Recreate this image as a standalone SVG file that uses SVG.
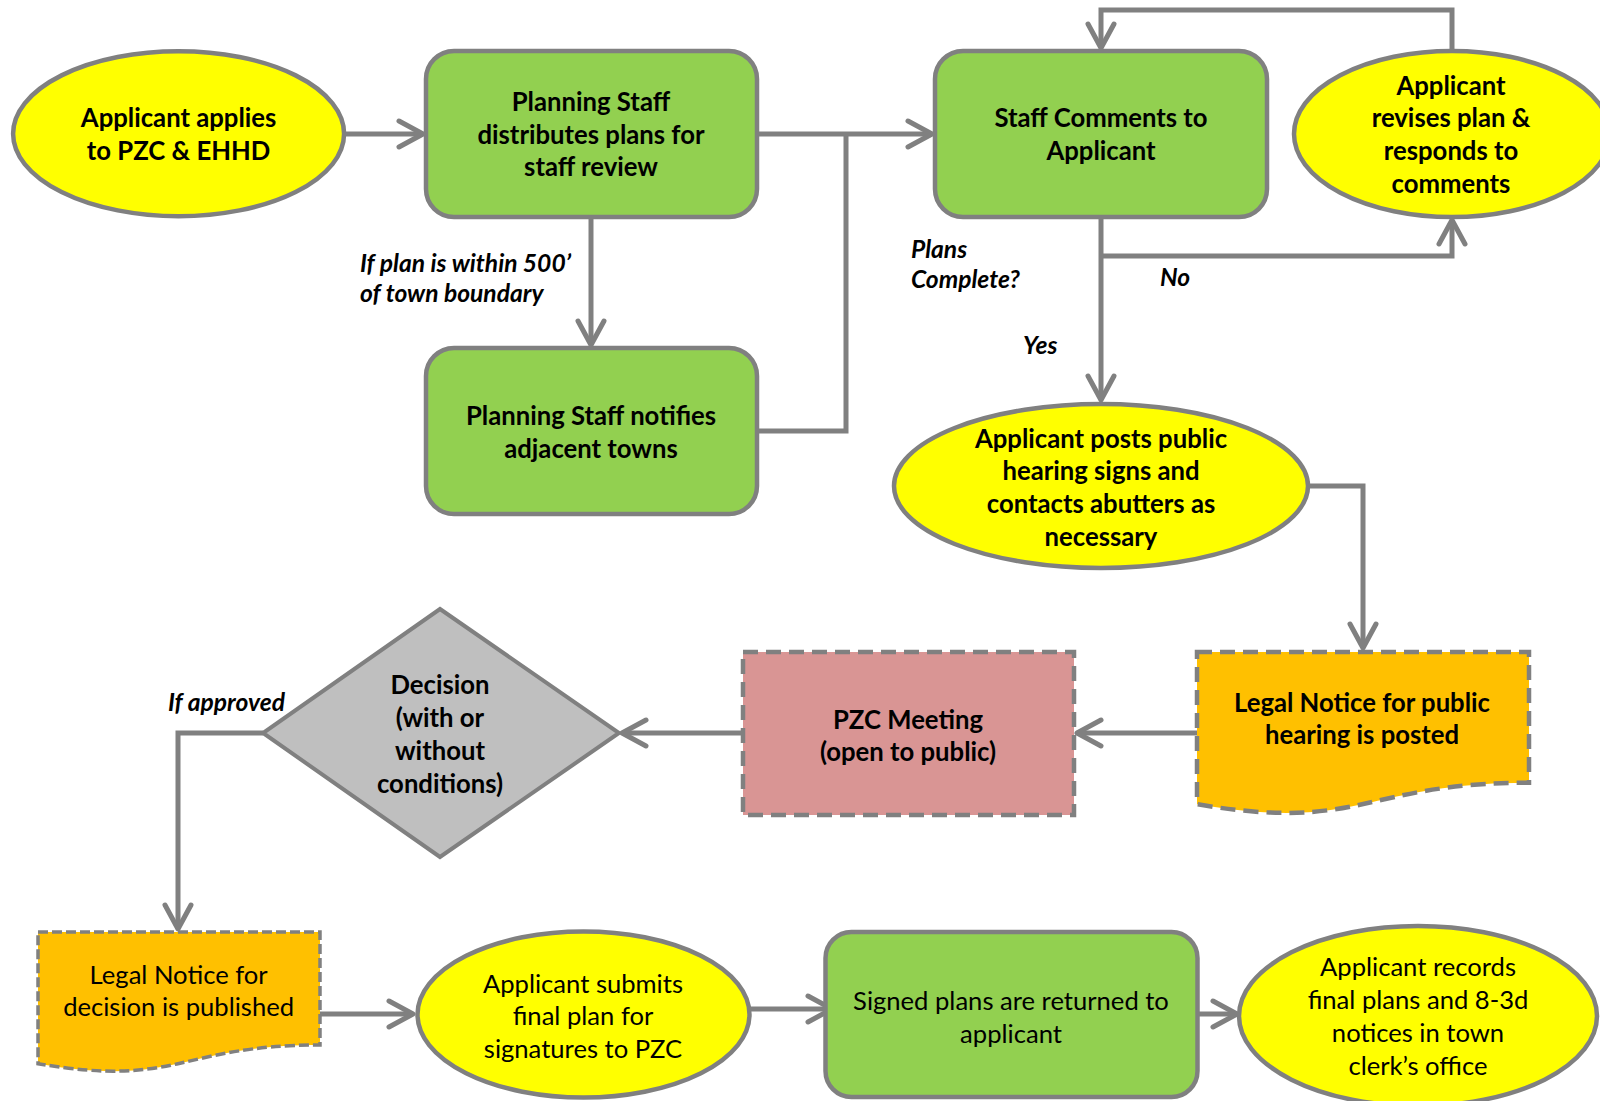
<svg xmlns="http://www.w3.org/2000/svg" width="1600" height="1101" viewBox="0 0 1600 1101">
<defs>
<style>
.yel{fill:#FFFF00;stroke:#808080;stroke-width:4.5}
.grn{fill:#92D050;stroke:#808080;stroke-width:4.5}
.org{fill:#FFC000;stroke:#808080;stroke-width:4.5;stroke-dasharray:15 8}
.org2{fill:#FFC000;stroke:#808080;stroke-width:3.5;stroke-dasharray:10 4}
.pnk{fill:#D99594;stroke:#808080;stroke-width:4.5;stroke-dasharray:15 8}
.gry{fill:#BFBFBF;stroke:#808080;stroke-width:4}
.conn{fill:none;stroke:#808080;stroke-width:5;marker-end:url(#arr)}
.plain{fill:none;stroke:#808080;stroke-width:5}
text{font-family:Lato,"Liberation Sans",sans-serif;fill:#000}
.b{font-weight:bold;font-size:25.7px;text-anchor:middle}
.r{font-size:25.6px;text-anchor:middle}
.lbl{font-weight:bold;font-style:italic;font-size:24.6px}
</style>
<marker id="arr" markerUnits="userSpaceOnUse" markerWidth="40" markerHeight="40" viewBox="-30 -20 40 40" refX="0" refY="0" orient="auto">
<path d="M-24,-13 L0,0 L-24,13" fill="none" stroke="#808080" stroke-width="5" stroke-linecap="round" stroke-linejoin="round"/>
</marker>
</defs>
<g id="connectors">
<path class="conn" d="M345,134 H423"/>
<path class="conn" d="M591,217 V345"/>
<path class="conn" d="M757,134 H932"/>
<path class="plain" d="M757,431 H846 V134"/>
<path class="conn" d="M1101,217 V400"/>
<path class="conn" d="M1101,256 H1452 V220"/>
<path class="conn" d="M1452,51 V10 H1101 V48"/>
<path class="conn" d="M1308,486 H1363 V648"/>
<path class="conn" d="M1197,733 H1077"/>
<path class="conn" d="M743,733 H622"/>
<path class="conn" d="M263,733 H178 V929"/>
<path class="conn" d="M320,1014 H413"/>
<path class="conn" d="M750,1009 H832"/>
<path class="conn" d="M1198,1014 H1237"/>
</g>
<g id="labels">
<text class="lbl" x="360" y="272">If plan is within 500’</text>
<text class="lbl" x="360" y="302">of town boundary</text>
<text class="lbl" x="911" y="258">Plans</text>
<text class="lbl" x="911" y="288">Complete?</text>
<text class="lbl" x="1160" y="286">No</text>
<text class="lbl" x="1023" y="354">Yes</text>
<text class="lbl" x="168" y="711">If approved</text>
</g>
<g id="n1">
<ellipse class="yel" cx="178.6" cy="133.7" rx="165.5" ry="82.5"/>
<text class="b" x="178.6" y="127">Applicant applies</text>
<text class="b" x="178.6" y="160">to PZC &amp; EHHD</text>
</g>
<g id="n2">
<rect class="grn" x="426" y="51" width="331" height="166" rx="28"/>
<text class="b" x="591" y="111">Planning Staff</text>
<text class="b" x="591" y="144">distributes plans for</text>
<text class="b" x="591" y="176">staff review</text>
</g>
<g id="n3">
<rect class="grn" x="426" y="348" width="331" height="166" rx="28"/>
<text class="b" x="591" y="425">Planning Staff notifies</text>
<text class="b" x="591" y="458">adjacent towns</text>
</g>
<g id="n4">
<rect class="grn" x="935" y="51" width="332" height="166" rx="28"/>
<text class="b" x="1101" y="127">Staff Comments to</text>
<text class="b" x="1101" y="160">Applicant</text>
</g>
<g id="n5">
<ellipse class="yel" cx="1452" cy="134" rx="158" ry="83"/>
<text class="b" x="1451" y="95">Applicant</text>
<text class="b" x="1451" y="127">revises plan &amp;</text>
<text class="b" x="1451" y="160">responds to</text>
<text class="b" x="1451" y="193">comments</text>
</g>
<g id="n6">
<ellipse class="yel" cx="1101" cy="486" rx="207" ry="82"/>
<text class="b" x="1101" y="448">Applicant posts public</text>
<text class="b" x="1101" y="480">hearing signs and</text>
<text class="b" x="1101" y="513">contacts abutters as</text>
<text class="b" x="1101" y="546">necessary</text>
</g>
<g id="n7">
<path class="org" d="M1197,652 H1529 V782.7 C1363,782.7 1363,832.5 1197,804.2 Z"/>
<text class="b" x="1362" y="712">Legal Notice for public</text>
<text class="b" x="1362" y="744">hearing is posted</text>
</g>
<g id="n8">
<rect class="pnk" x="743" y="652" width="331" height="163"/>
<text class="b" x="908" y="729">PZC Meeting</text>
<text class="b" x="908" y="761">(open to public)</text>
</g>
<g id="n9">
<polygon class="gry" points="440,609 619,733 440,857 263,733"/>
<text class="b" x="440" y="694">Decision</text>
<text class="b" x="440" y="727">(with or</text>
<text class="b" x="440" y="760">without</text>
<text class="b" x="440" y="793">conditions)</text>
</g>
<g id="n10">
<path class="org2" d="M38,932 H320 V1045 C179,1045 179,1088 38,1063.7 Z"/>
<text class="r" x="178.6" y="984">Legal Notice for</text>
<text class="r" x="178.6" y="1016">decision is published</text>
</g>
<g id="n11">
<ellipse class="yel" cx="583.5" cy="1014.5" rx="166" ry="83"/>
<text class="r" x="583" y="993">Applicant submits</text>
<text class="r" x="583" y="1025">final plan for</text>
<text class="r" x="583" y="1058">signatures to PZC</text>
</g>
<g id="n12">
<rect class="grn" x="825.5" y="932" width="372" height="165" rx="26"/>
<text class="r" x="1011" y="1010">Signed plans are returned to</text>
<text class="r" x="1011" y="1043">applicant</text>
</g>
<g id="n13">
<ellipse class="yel" cx="1418" cy="1016" rx="179" ry="90"/>
<text class="r" x="1418" y="976">Applicant records</text>
<text class="r" x="1418" y="1009">final plans and 8-3d</text>
<text class="r" x="1418" y="1042">notices in town</text>
<text class="r" x="1418" y="1075">clerk’s office</text>
</g>
</svg>
